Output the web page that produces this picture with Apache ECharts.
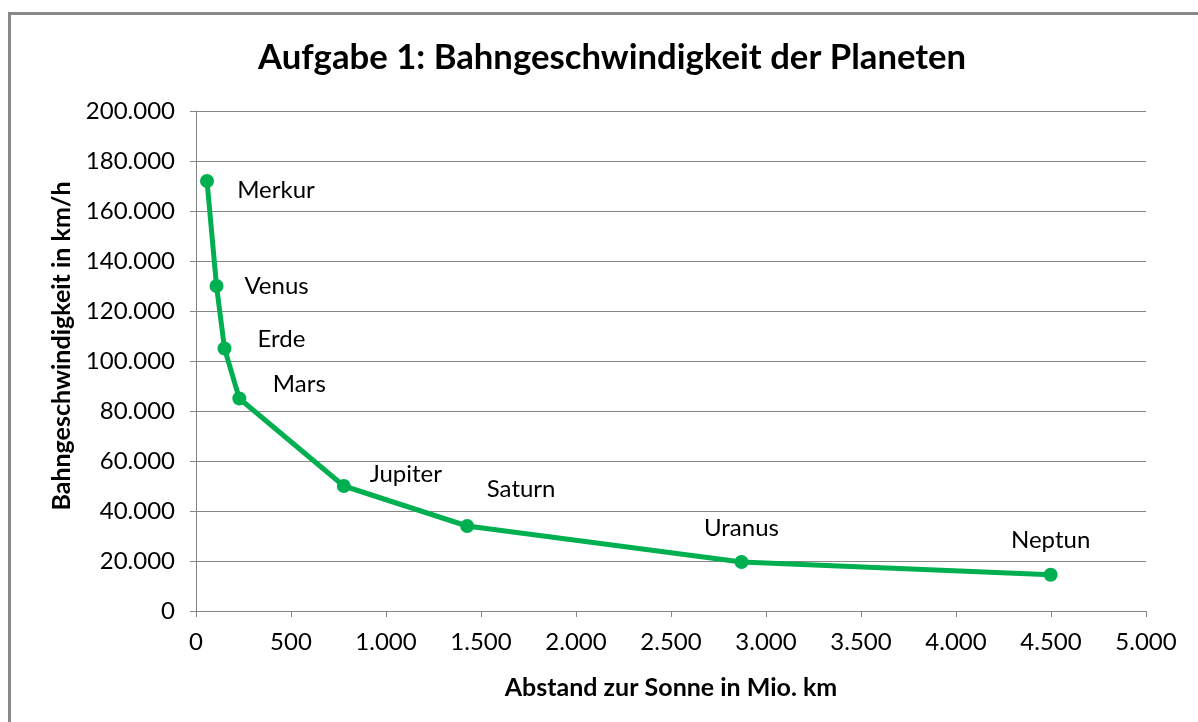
<!DOCTYPE html>
<html>
<head>
<meta charset="utf-8">
<script src="https://cdn.jsdelivr.net/npm/echarts@6/dist/echarts.min.js"></script>
<style>html,body{margin:0;padding:0;background:#fff}#c{width:1198px;height:722px}</style>
</head>
<body>
<div id="c"></div>
<script>
var planets = ['Merkur','Venus','Erde','Mars','Jupiter','Saturn','Uranus','Neptun'];
var distance = [58, 108, 150, 228, 778, 1427, 2871, 4498];
var speed = [172000, 130000, 105000, 85000, 50000, 34000, 19600, 14500];
var labelOffsets = [[69,9],[60,0],[57,-9],[60,-14],[62,-12],[54,-37],[0,-34],[0,-34]];

var FONT = 'Lato';
function de(v){ return String(v).replace(/\B(?=(\d{3})+(?!\d))/g, '.'); }

var data = planets.map(function(p,i){
  return {
    value: [distance[i], speed[i]],
    name: p,
    label: { offset: labelOffsets[i] }
  };
});

var chart = echarts.init(document.getElementById('c'));
chart.setOption({
  animation: false,
  backgroundColor: '#fff',
  title: {
    text: 'Aufgabe 1: Bahngeschwindigkeit der Planeten',
    left: 253, top: 35,
    textStyle: { fontFamily: FONT, fontWeight: 'bold', fontSize: 34.7, color: '#000' }
  },
  graphic: [{
    type: 'rect', silent: true, z: -1,
    shape: { x: 9.5, y: 13.5, width: 1400, height: 1000 },
    style: { fill: 'none', stroke: '#898989', lineWidth: 3 }
  }],
  grid: { left: 196, right: 52, top: 111, bottom: 111, containLabel: false },
  xAxis: {
    type: 'value', min: 0, max: 5000, interval: 500,
    name: 'Abstand zur Sonne in Mio. km', nameLocation: 'middle', nameGap: 64,
    nameTextStyle: { fontFamily: FONT, fontWeight: 'bold', fontSize: 25, color: '#000' },
    axisLine: { show: true, lineStyle: { color: '#868686', width: 1 } },
    axisTick: { show: true, length: 6, lineStyle: { color: '#868686' } },
    axisLabel: { fontFamily: FONT, fontSize: 24, color: '#000', margin: 19, formatter: de },
    splitLine: { show: false }
  },
  yAxis: {
    type: 'value', min: 0, max: 200000, interval: 20000,
    name: 'Bahngeschwindigkeit in km/h', nameLocation: 'middle', nameGap: 121,
    nameTextStyle: { fontFamily: FONT, fontWeight: 'bold', fontSize: 25, color: '#000', padding: [0, 0, 0, 30] },
    axisLine: { show: true, lineStyle: { color: '#868686', width: 1 } },
    axisTick: { show: true, length: 6, lineStyle: { color: '#868686' } },
    axisLabel: { fontFamily: FONT, fontSize: 24, color: '#000', margin: 21, formatter: de },
    splitLine: { show: true, lineStyle: { color: '#868686', width: 1 } }
  },
  series: [{
    type: 'line',
    data: data,
    symbol: 'circle', symbolSize: 14,
    lineStyle: { color: '#00B050', width: 5 },
    itemStyle: { color: '#00B050' },
    label: {
      show: true, position: 'inside', align: 'center', verticalAlign: 'middle',
      formatter: '{b}', fontFamily: FONT, fontSize: 24, color: '#000'
    }
  }]
});
</script>
</body>
</html>
